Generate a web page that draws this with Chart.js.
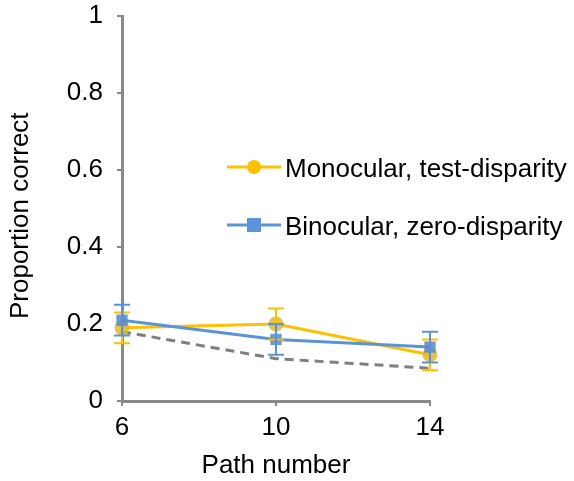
<!DOCTYPE html>
<html>
<head>
<meta charset="utf-8">
<script src="https://cdn.jsdelivr.net/npm/chart.js@4/dist/chart.umd.min.js"></script>
<style>
  body { margin: 0; background: #fff; }
  #wrap { width: 574px; height: 481px; }
</style>
</head>
<body>
<div id="wrap"><canvas id="grafico" width="574" height="481"></canvas></div>
<script>
const pathNumbers = ["6", "10", "14"];
const monocular = [0.19, 0.2, 0.12];
const monocularErr = [0.04, 0.04, 0.04];
const binocular = [0.21, 0.16, 0.14];
const binocularErr = [0.04, 0.04, 0.04];
const chance = [0.18, 0.11, 0.085];

const FONTE = "'Liberation Sans', Arial, Helvetica, sans-serif";
const TAM = 26;
const CINZA = "#898989";
const AMARELO = "#FFC000";
const AZUL = "#5B93D8";

// barras de erro desenhadas com as escalas do grafico
const barrasErro = {
  id: "barrasErro",
  afterDatasetsDraw(chart) {
    const ctx = chart.ctx;
    const y = chart.scales.y;
    chart.data.datasets.forEach((ds, i) => {
      if (!ds.erros) return;
      const meta = chart.getDatasetMeta(i);
      ctx.save();
      ctx.strokeStyle = ds.borderColor;
      ctx.lineWidth = 2;
      meta.data.forEach((pt, j) => {
        const v = ds.data[j];
        const e = ds.erros[j];
        const yTop = y.getPixelForValue(v + e);
        const yBot = y.getPixelForValue(v - e);
        ctx.beginPath();
        ctx.moveTo(pt.x, yTop);
        ctx.lineTo(pt.x, yBot);
        ctx.moveTo(pt.x - 8, yTop);
        ctx.lineTo(pt.x + 8, yTop);
        ctx.moveTo(pt.x - 8, yBot);
        ctx.lineTo(pt.x + 8, yBot);
        ctx.stroke();
      });
      ctx.restore();
    });
  },
};

// legenda dentro do grafico, linha + marcador
const legendaLinha = {
  id: "legendaLinha",
  afterDraw(chart) {
    const ctx = chart.ctx;
    const itens = chart.data.datasets.filter((ds) => ds.label);
    const x0 = 227;
    const yIni = 167;
    ctx.save();
    itens.forEach((ds, i) => {
      const yy = yIni + i * 58;
      ctx.strokeStyle = ds.borderColor;
      ctx.lineWidth = 3;
      ctx.beginPath();
      ctx.moveTo(x0, yy);
      ctx.lineTo(x0 + 54, yy);
      ctx.stroke();
      ctx.fillStyle = ds.borderColor;
      if (ds.pointStyle === "rect") {
        ctx.fillRect(x0 + 27 - 7, yy - 7, 14, 14);
      } else {
        ctx.beginPath();
        ctx.arc(x0 + 27, yy, 7, 0, Math.PI * 2);
        ctx.fill();
      }
      ctx.fillStyle = "#000";
      ctx.font = TAM + "px " + FONTE;
      ctx.textBaseline = "middle";
      ctx.textAlign = "left";
      ctx.fillText(ds.label, x0 + 58, yy + 3);
    });
    ctx.restore();
  },
};

const ctx = document.getElementById("grafico").getContext("2d");
new Chart(ctx, {
  type: "line",
  data: {
    labels: pathNumbers,
    datasets: [
      {
        label: "Monocular, test-disparity",
        data: monocular,
        erros: monocularErr,
        borderColor: AMARELO,
        backgroundColor: "rgba(225,186,40,0.85)",
        borderWidth: 3,
        pointStyle: "circle",
        pointRadius: 7.5,
        pointBorderWidth: 0,
        pointHoverRadius: 7.5,
        tension: 0,
        order: 1,
      },
      {
        label: "Binocular, zero-disparity",
        data: binocular,
        erros: binocularErr,
        borderColor: AZUL,
        backgroundColor: "rgba(90,135,205,0.85)",
        borderWidth: 3,
        pointStyle: "rect",
        pointRadius: 8,
        pointBorderWidth: 0,
        pointHoverRadius: 8,
        tension: 0,
        order: 0,
      },
      {
        label: "",
        data: chance,
        borderColor: "#7F7F7F",
        borderWidth: 3,
        borderDash: [9, 6],
        pointRadius: 0,
        tension: 0,
        order: 2,
      },
    ],
  },
  options: {
    responsive: false,
    animation: false,
    layout: {
      padding: { top: 16, right: 144, left: 0, bottom: 0 },
    },
    plugins: {
      legend: { display: false },
      tooltip: { enabled: false },
    },
    scales: {
      x: {
        type: "category",
        offset: false,
        afterFit: (s) => {
          s.height = 80;
          s.paddingLeft = 0;
          s.paddingRight = 0;
        },
        border: { color: CINZA, width: 3 },
        grid: { drawOnChartArea: false, tickLength: 5, tickColor: CINZA, lineWidth: 2 },
        ticks: { color: "#000", font: { family: FONTE, size: TAM }, padding: 6, maxRotation: 0 },
        title: {
          display: true,
          text: "Path number",
          color: "#000",
          font: { family: FONTE, size: TAM },
          padding: { top: 4, bottom: 0 },
        },
      },
      y: {
        min: 0,
        max: 1,
        afterFit: (s) => {
          s.width = 122;
          s.paddingTop = 0;
          s.paddingBottom = 0;
        },
        border: { color: CINZA, width: 3 },
        grid: { drawOnChartArea: false, tickLength: 5, tickColor: CINZA, lineWidth: 2 },
        ticks: {
          stepSize: 0.2,
          color: "#000",
          font: { family: FONTE, size: TAM },
          padding: 14,
          callback: (v) => +v.toFixed(1),
        },
        title: {
          display: true,
          text: "Proportion correct  ",
          color: "#000",
          font: { family: FONTE, size: TAM },
          padding: { top: 5 },
        },
      },
    },
  },
  plugins: [barrasErro, legendaLinha],
});
</script>
</body>
</html>
